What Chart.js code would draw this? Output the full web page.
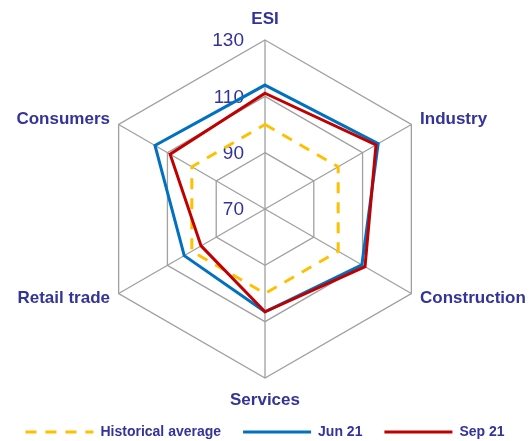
<!DOCTYPE html>
<html>
<head>
<meta charset="utf-8">
<script src="https://cdn.jsdelivr.net/npm/chart.js@4.4.0/dist/chart.umd.min.js"></script>
<style>
  html, body { margin: 0; padding: 0; background: #fff; }
</style>
</head>
<body>
<canvas id="chartEsi" width="530" height="441"></canvas>
<script>
// categories and series
const categories = ['ESI', 'Industry', 'Construction', 'Services', 'Retail trade', 'Consumers'];
const historicalAverage = [100, 100, 100, 100, 100, 100];
const jun21 = [114.0, 116.4, 109.7, 106.5, 103.1, 115.1];
const sep21 = [111.1, 115.5, 111.0, 106.5, 96.2, 108.9];
const tickValues = [70, 90, 110, 130];

const textColor = '#333399';
const gridColor = '#a0a0a0';
const fontFamily = '"Liberation Sans", Arial, sans-serif';

// radar geometry (centre / radius) and label gaps
const CX = 265, CY = 209, RADIUS = 169;
const labelGap = [21, 10, 10, 22, 10, 10];

// draws tick labels left of the vertical axis and the category names
const radarLabels = {
    id: 'radarLabels',
    beforeDatasetsDraw(chart) {
        const r = chart.scales.r;
        const ctx = chart.ctx;
        ctx.save();
        ctx.fillStyle = textColor;
        ctx.font = '19px ' + fontFamily;
        ctx.textAlign = 'right';
        ctx.textBaseline = 'middle';
        r.ticks.forEach(tick => {
            const d = r.getDistanceFromCenterForValue(tick.value);
            ctx.fillText(tick.label, r.xCenter - 21, r.yCenter - d + 1);
        });
        ctx.restore();
    },
    afterDraw(chart) {
        const r = chart.scales.r;
        const ctx = chart.ctx;
        ctx.save();
        ctx.fillStyle = textColor;
        ctx.font = 'bold 17px ' + fontFamily;
        ctx.textBaseline = 'middle';
        chart.data.labels.forEach((label, i) => {
            const p = r.getPointPosition(i, r.drawingArea + labelGap[i]);
            const dx = p.x - r.xCenter;
            ctx.textAlign = Math.abs(dx) < 1 ? 'center' : (dx > 0 ? 'left' : 'right');
            ctx.fillText(label, p.x, p.y);
        });
        ctx.restore();
    }
};

const ctx = document.getElementById('chartEsi').getContext('2d');

new Chart(ctx, {
    type: 'radar',
    data: {
        labels: categories,
        datasets: [
            {
                label: 'Historical average',
                data: historicalAverage,
                borderColor: '#FFC000',
                borderDash: [11, 9],
                order: 3
            },
            {
                label: 'Jun 21',
                data: jun21,
                borderColor: '#0070C0',
                order: 2
            },
            {
                label: 'Sep 21',
                data: sep21,
                borderColor: '#C00000',
                order: 1
            }
        ]
    },
    options: {
        responsive: false,
        animation: false,
        layout: { padding: { bottom: -8 } },
        elements: {
            line: { borderWidth: 3, fill: false, tension: 0, backgroundColor: 'transparent' },
            point: { radius: 0, hoverRadius: 0 }
        },
        scales: {
            r: {
                min: tickValues[0],
                max: tickValues[tickValues.length - 1],
                ticks: { display: false, stepSize: tickValues[1] - tickValues[0] },
                grid: { color: gridColor, lineWidth: 1.3 },
                angleLines: { color: gridColor, lineWidth: 1.3 },
                pointLabels: { display: false },
                afterFit(scale) {
                    scale.xCenter = CX;
                    scale.yCenter = CY;
                    scale.drawingArea = RADIUS;
                }
            }
        },
        plugins: {
            legend: {
                position: 'bottom',
                labels: {
                    usePointStyle: true,
                    pointStyle: 'line',
                    pointStyleWidth: 68,
                    padding: 22,
                    color: textColor,
                    font: { family: fontFamily, size: 14, weight: 'bold' },
                    sort: (a, b) => a.datasetIndex - b.datasetIndex,
                    generateLabels(chart) {
                        const items = Chart.defaults.plugins.legend.labels.generateLabels(chart);
                        items.forEach(item => {
                            const ds = chart.data.datasets[item.datasetIndex];
                            item.strokeStyle = ds.borderColor;
                            item.lineWidth = 3;
                            item.lineDash = ds.borderDash || [];
                        });
                        return items;
                    }
                }
            },
            tooltip: { enabled: false }
        }
    },
    plugins: [radarLabels]
});
</script>
</body>
</html>
